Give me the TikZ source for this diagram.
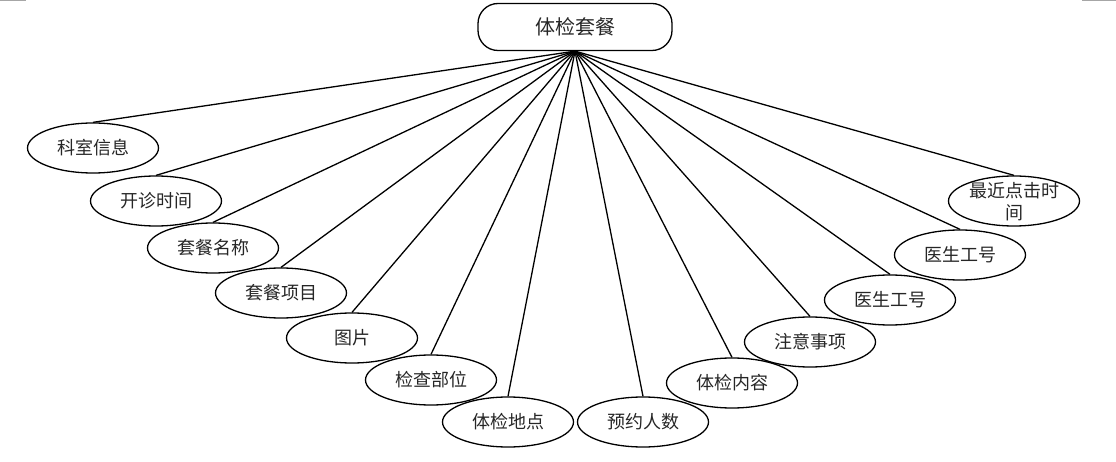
\documentclass[tikz,border=0pt]{standalone}
\usepackage{fontspec}
\newfontfamily\cjk{Noto Sans CJK SC}
\usetikzlibrary{shapes.geometric}
\begin{document}
\begin{tikzpicture}[x=1pt,y=-1pt,
  attr/.style={ellipse,draw=black,line width=1.3pt,minimum width=131pt,minimum height=50pt,inner sep=0pt,
    font=\cjk\fontsize{18pt}{22pt}\selectfont,text=black!85},
  entity/.style={rectangle,rounded corners=20pt,draw=black,line width=1.3pt,minimum width=194pt,minimum height=47pt,inner sep=0pt,
    font=\cjk\fontsize{20pt}{24pt}\selectfont,text=black!85},
  conn/.style={line width=1.3pt,black},
  pagemark/.style={draw=black!35,line width=1.5pt}]
\useasboundingbox (0,0) rectangle (1116,462);
\draw[pagemark] (0,0.75) -- (26,0.75);
\draw[pagemark] (1082,0.75) -- (1116,0.75);
\node[entity] (top) at (575,27) {体检套餐};
\node[attr] (a1) at (93,148) {科室信息};
\node[attr] (a2) at (156,201) {开诊时间};
\node[attr] (a3) at (213,248) {套餐名称};
\node[attr] (a4) at (281,293) {套餐项目};
\node[attr] (a5) at (352,338) {图片};
\node[attr] (a6) at (431,380) {检查部位};
\node[attr] (a7) at (508,422) {体检地点};
\node[attr] (a8) at (643,422) {预约人数};
\node[attr] (a9) at (732,383) {体检内容};
\node[attr] (a10) at (810,342) {注意事项};
\node[attr] (a11) at (890,300) {医生工号};
\node[attr] (a12) at (960,255) {医生工号};
\node[attr] (a13) at (1014,201) {};
\node[font=\cjk\fontsize{18pt}{22pt}\selectfont,text=black!85,align=center,inner sep=0pt] (t13) at (1014,202) {最近点击时\\间};
\foreach \n in {a1,a2,a3,a4,a5,a6,a7,a8,a9,a10,a11,a12,a13}
  \draw[conn] (top.south) -- (\n.north);
\end{tikzpicture}
\end{document}
